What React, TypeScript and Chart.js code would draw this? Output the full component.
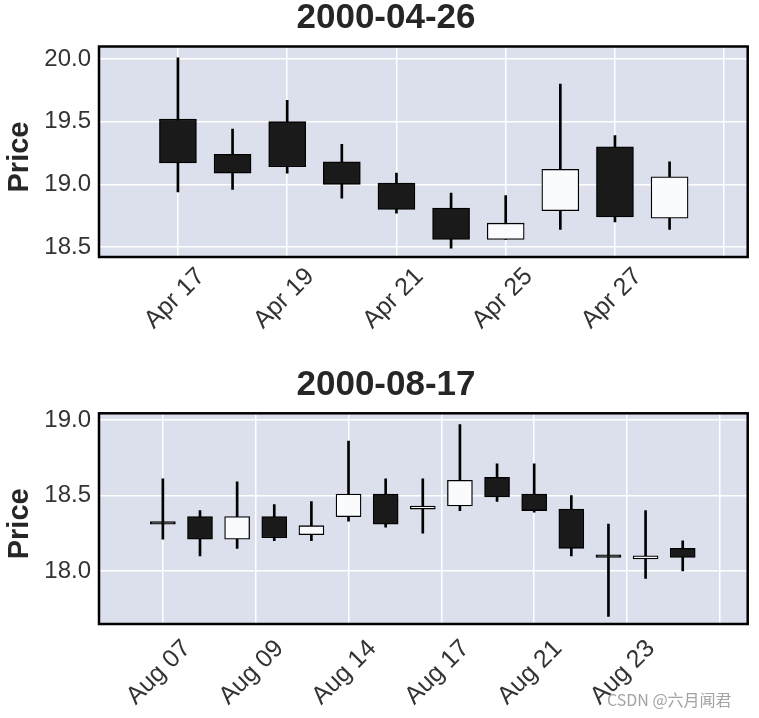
import React, { useEffect, useRef } from 'react';
import { Chart, registerables } from 'chart.js';

Chart.register(...registerables);

// ---------- data ----------
const aprTitle = '2000-04-26';
const aprDates = ['Apr 17', 'Apr 18', 'Apr 19', 'Apr 20', 'Apr 21', 'Apr 24', 'Apr 25', 'Apr 26', 'Apr 27', 'Apr 28'];
const aprOpen = [19.52, 19.24, 19.50, 19.18, 19.01, 18.81, 18.56, 18.79, 19.30, 18.73];
const aprHigh = [20.01, 19.44, 19.67, 19.32, 19.09, 18.93, 18.91, 19.80, 19.39, 19.18];
const aprLow = [18.94, 18.96, 19.09, 18.89, 18.77, 18.49, 18.56, 18.64, 18.70, 18.64];
const aprClose = [19.17, 19.09, 19.14, 19.00, 18.80, 18.56, 18.69, 19.12, 18.74, 19.06];
const aprYTicks = [18.5, 19.0, 19.5, 20.0];
const aprXTicks = [0, 2, 4, 6, 8, 10];

const augTitle = '2000-08-17';
const augDates = ['Aug 07', 'Aug 08', 'Aug 09', 'Aug 10', 'Aug 11', 'Aug 14', 'Aug 15', 'Aug 16', 'Aug 17', 'Aug 18', 'Aug 21', 'Aug 22', 'Aug 23', 'Aug 24', 'Aug 25'];
const augOpen = [18.31, 18.36, 18.21, 18.36, 18.24, 18.36, 18.51, 18.41, 18.43, 18.62, 18.51, 18.41, 18.09, 18.08, 18.15];
const augHigh = [18.61, 18.40, 18.59, 18.44, 18.46, 18.86, 18.61, 18.61, 18.97, 18.71, 18.71, 18.50, 18.31, 18.40, 18.20];
const augLow = [18.21, 18.10, 18.15, 18.20, 18.20, 18.33, 18.29, 18.25, 18.40, 18.46, 18.39, 18.10, 17.70, 17.95, 18.00];
const augClose = [18.31, 18.21, 18.36, 18.22, 18.30, 18.51, 18.31, 18.43, 18.60, 18.49, 18.40, 18.15, 18.09, 18.10, 18.09];
const augYTicks = [18.0, 18.5, 19.0];
const augXTicks = [0, 2.5, 5, 7.5, 10, 12.5, 15];

const watermark = 'CSDN @六月闻君';

// ---------- styling ----------
const FONT = '"Liberation Sans", Arial, sans-serif';
const W = 759;
const H = 359;

function roundHalfEven(v: number): number {
  const f = Math.floor(v);
  const d = v - f;
  if (Math.abs(d - 0.5) < 1e-9) return f % 2 === 0 ? f : f + 1;
  return Math.round(v);
}

type Panel = {
  title: string;
  dates: string[];
  open: number[];
  high: number[];
  low: number[];
  close: number[];
  yTicks: number[];
  xTicks: number[];
  xMin: number;
  xMax: number;
  yMin: number;
  yMax: number;
  padTop: number;
  xAxisH: number;
  bodyW: number;
  titleBase: number;
  ylabelY: number;
  labelPad: number;
  labelOffset: number;
};

function makeChart(canvas: HTMLCanvasElement, p: Panel) {
  const bodyData = p.dates.map((_, i) => ({ x: i, y: [p.open[i], p.close[i]] }));
  const wickData = p.dates.map((_, i) => ({ x: i, y: [p.low[i], p.high[i]] }));
  const bodyColors = p.dates.map((_, i) => (p.close[i] > p.open[i] ? '#fafbfd' : '#1a1a1a'));

  const decor = {
    id: 'decor',
    beforeDraw(chart: any) {
      const { ctx, chartArea: a } = chart;
      ctx.save();
      ctx.fillStyle = '#dce0ec';
      ctx.fillRect(a.left, a.top, a.right - a.left, a.bottom - a.top);
      ctx.restore();
    },
    afterDraw(chart: any) {
      const { ctx, chartArea: a } = chart;
      ctx.save();
      ctx.strokeStyle = '#000';
      ctx.lineWidth = 2.5;
      ctx.strokeRect(a.left, a.top, a.right - a.left, a.bottom - a.top);
      ctx.fillStyle = '#262626';
      ctx.font = `bold 35px ${FONT}`;
      ctx.textAlign = 'center';
      ctx.textBaseline = 'alphabetic';
      ctx.fillText(p.title, 386, p.titleBase);
      ctx.translate(28, p.ylabelY);
      ctx.rotate(-Math.PI / 2);
      ctx.font = `bold 29px ${FONT}`;
      ctx.fillText('Price', 0, 0);
      ctx.restore();
    },
  };

  return new Chart(canvas, {
    type: 'bar',
    data: {
      datasets: [
        {
          label: 'body',
          data: bodyData as any,
          backgroundColor: bodyColors,
          borderColor: '#000',
          borderWidth: 1.3,
          borderSkipped: false,
          barThickness: p.bodyW,
          grouped: false,
          minBarLength: 2.5,
        } as any,
        {
          label: 'wick',
          data: wickData as any,
          backgroundColor: '#000',
          borderWidth: 0,
          barThickness: 2,
          grouped: false,
        } as any,
      ],
    },
    options: {
      animation: false,
      responsive: false,
      devicePixelRatio: 1,
      layout: { padding: { left: 0, right: 11.3, top: p.padTop, bottom: 0 } },
      plugins: { legend: { display: false }, tooltip: { enabled: false }, title: { display: false } },
      scales: {
        x: {
          type: 'linear',
          min: p.xMin,
          max: p.xMax,
          offset: false,
          afterBuildTicks: (s: any) => {
            s.ticks = p.xTicks.map((v) => ({ value: v }));
          },
          afterFit: (s: any) => {
            s.height = p.xAxisH;
          },
          grid: { color: '#ffffff', lineWidth: 1.5, drawTicks: false, offset: false },
          border: { display: false },
          ticks: {
            autoSkip: false,
            minRotation: 45,
            maxRotation: 45,
            labelOffset: p.labelOffset,
            padding: p.labelPad,
            color: '#333333',
            font: { family: FONT, size: 25 },
            callback: (v: any) => {
              const idx = roundHalfEven(Number(v));
              return p.dates[idx] !== undefined && idx >= 0 ? p.dates[idx] : '';
            },
          },
        },
        y: {
          type: 'linear',
          min: p.yMin,
          max: p.yMax,
          afterBuildTicks: (s: any) => {
            s.ticks = p.yTicks.map((v) => ({ value: v }));
          },
          afterFit: (s: any) => {
            s.width = 99;
          },
          grid: { color: '#ffffff', lineWidth: 1.5, drawTicks: false },
          border: { display: false },
          ticks: {
            padding: 8,
            color: '#333333',
            font: { family: FONT, size: 24 },
            callback: (v: any) => Number(v).toFixed(1),
          },
        },
      },
    } as any,
    plugins: [decor],
  });
}

const aprPanel: Panel = {
  title: aprTitle,
  dates: aprDates,
  open: aprOpen,
  high: aprHigh,
  low: aprLow,
  close: aprClose,
  yTicks: aprYTicks,
  xTicks: aprXTicks,
  xMin: -1.445,
  xMax: 10.43,
  yMin: 18.42,
  yMax: 20.1,
  padTop: 46.5,
  xAxisH: 102,
  bodyW: 37,
  titleBase: 28.3,
  ylabelY: 157,
  labelPad: 5,
  labelOffset: 23,
};

const augPanel: Panel = {
  title: augTitle,
  dates: augDates,
  open: augOpen,
  high: augHigh,
  low: augLow,
  close: augClose,
  yTicks: augYTicks,
  xTicks: augXTicks,
  xMin: -1.72,
  xMax: 15.75,
  yMin: 17.649,
  yMax: 19.044,
  padTop: 54.3,
  xAxisH: 94,
  bodyW: 25,
  titleBase: 36,
  ylabelY: 164.8,
  labelPad: 10,
  labelOffset: 24,
};

export default function App() {
  const ref1 = useRef<HTMLCanvasElement>(null);
  const ref2 = useRef<HTMLCanvasElement>(null);

  useEffect(() => {
    const c1 = makeChart(ref1.current!, aprPanel);
    const c2 = makeChart(ref2.current!, augPanel);
    return () => {
      c1.destroy();
      c2.destroy();
    };
  }, []);

  return (
    <div style={{ position: 'fixed', left: 0, top: 0, width: W, height: 718, background: '#ffffff', overflow: 'hidden' }}>
      <canvas ref={ref1} width={W} height={H} style={{ position: 'absolute', left: 0, top: 0, width: W, height: H }} />
      <canvas ref={ref2} width={W} height={H} style={{ position: 'absolute', left: 0, top: H, width: W, height: H }} />
      <div
        style={{
          position: 'absolute',
          left: 607,
          top: 689,
          fontFamily: '"Noto Sans CJK SC", "Noto Sans", sans-serif',
          fontSize: 16,
          color: '#a3a3a3',
          whiteSpace: 'nowrap',
          lineHeight: '20px',
        }}
      >
        {watermark}
      </div>
    </div>
  );
}
